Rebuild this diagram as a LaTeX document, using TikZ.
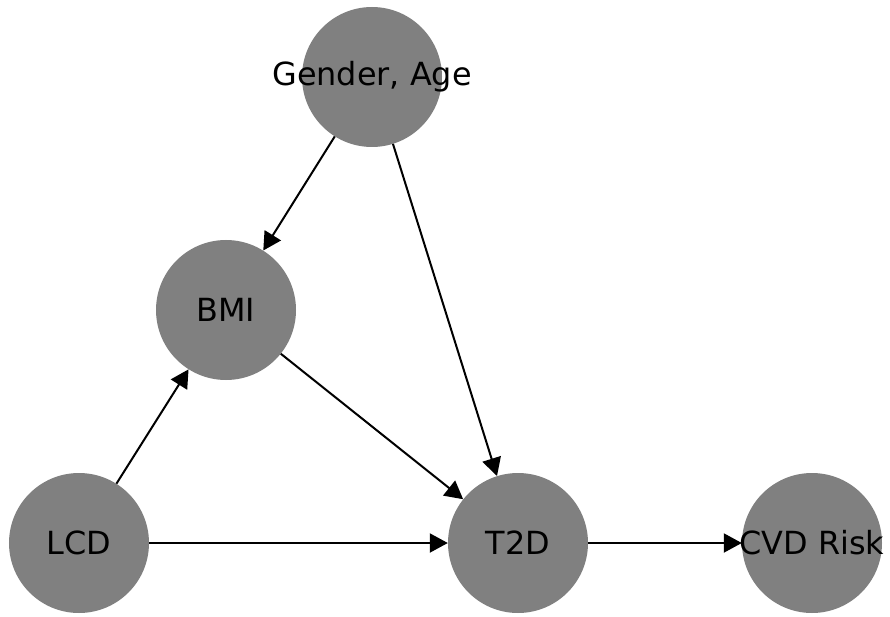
\documentclass[tikz,border=0pt]{standalone}
\usepackage{fontspec}
\setmainfont{DejaVu Sans}
\usetikzlibrary{arrows.meta}
\definecolor{nodegray}{HTML}{808080}
\tikzset{
  dot/.style={circle, fill=nodegray, draw=none, minimum size=140bp, inner sep=0pt},
  lbl/.style={font=\fontsize{32}{32}\selectfont, text=black},
  arr/.style={line width=2bp, -{Triangle[length=18bp, width=19bp]}, black}
}
\begin{document}
\begin{tikzpicture}[x=1bp, y=-1bp]
\useasboundingbox (0,0) rectangle (890,617);
\node[dot] (g) at (372,77) {};
\node[dot] (b) at (226,310) {};
\node[dot] (l) at (79,543) {};
\node[dot] (t) at (518,543) {};
\node[dot] (c) at (812,543) {};
\node[lbl] (gl) at (g) {Gender, Age};
\node[lbl] (bl) at (b) {BMI};
\node[lbl] (ll) at (l) {LCD};
\node[lbl] (tl) at (t) {T2D};
\node[lbl] (cl) at (c) {CVD Risk};
\draw[arr] (g) -- (b);
\draw[arr] (g) -- (t);
\draw[arr] (b) -- (t);
\draw[arr] (l) -- (b);
\draw[arr] (l) -- (t);
\draw[arr] (t) -- (c);
\end{tikzpicture}
\end{document}
